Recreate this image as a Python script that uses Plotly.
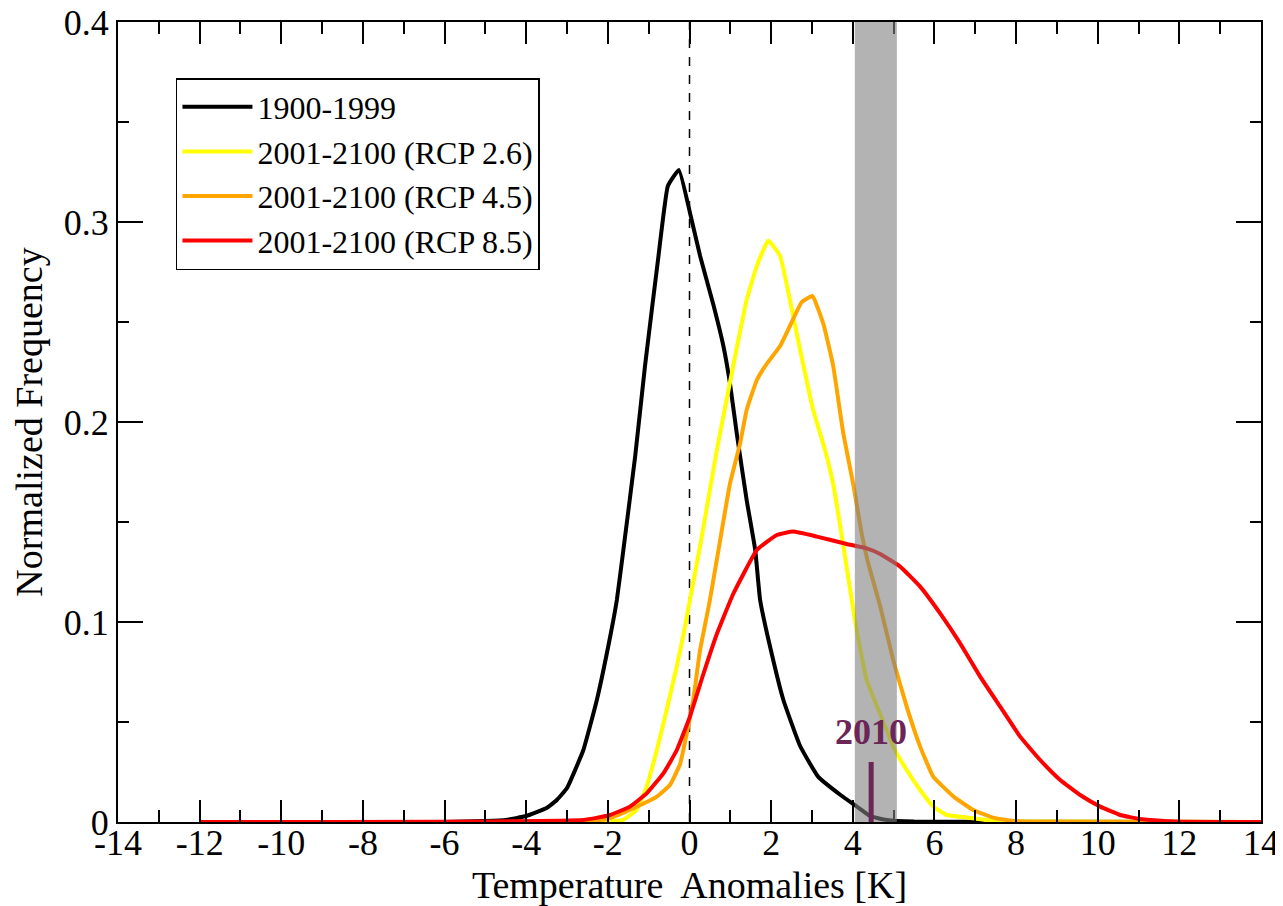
import plotly.graph_objects as go

# ---------------- data ----------------
x_1900 = [-12, -6, -5, -4.5, -4, -3.5, -3.25, -3, -2.6, -2.27, -1.95, -1.78, -1.62, -1.33, -1.09,
          -0.76, -0.53, -0.26, 0.03, 0.26, 0.58, 0.83, 0.99, 1.16, 1.40, 1.61, 1.73, 1.97, 2.30,
          2.71, 3.15, 3.7, 4.1, 4.42, 4.83, 5.5, 14]
y_1900 = [0, 0, 0.0005, 0.001, 0.003, 0.007, 0.011, 0.017, 0.036, 0.061, 0.092, 0.111, 0.136, 0.183,
          0.228, 0.283, 0.318, 0.326, 0.303, 0.283, 0.259, 0.238, 0.2195, 0.194, 0.161, 0.136, 0.111,
          0.088, 0.061, 0.038, 0.0227, 0.0135, 0.0077, 0.003, 0.001, 0.0002, 0]

x_rcp26 = [-12, -2.5, -2, -1.63, -1.3, -1.05, -0.8, -0.56, -0.31, -0.15, 0.01, 0.26, 0.67, 1.07,
           1.40, 1.65, 1.93, 2.22, 2.46, 2.71, 3.03, 3.32, 3.52, 3.77, 4.05, 4.34, 4.67, 4.99, 5.32,
           5.65, 5.97, 6.30, 6.79, 7.28, 7.8, 14]
y_rcp26 = [0, 0, 0.0003, 0.001, 0.006, 0.0177, 0.036, 0.056, 0.078, 0.0935, 0.111, 0.138, 0.186,
           0.228, 0.261, 0.278, 0.2907, 0.283, 0.261, 0.236, 0.206, 0.186, 0.169, 0.138, 0.101,
           0.071, 0.054, 0.0377, 0.026, 0.016, 0.0077, 0.0035, 0.0023, 0.001, 0.0002, 0]

x_rcp45 = [-12, -2.5, -1.95, -1.29, -0.8, -0.48, -0.23, -0.07, 0.09, 0.26, 0.50, 0.71, 0.99, 1.24,
           1.40, 1.65, 1.89, 2.22, 2.46, 2.75, 3.01, 3.28, 3.52, 3.77, 4.01, 4.22, 4.37, 4.67, 4.99,
           5.32, 5.65, 5.97, 6.47, 6.95, 7.44, 7.93, 8.5, 14]
y_rcp45 = [0, 0, 0.002, 0.0077, 0.0127, 0.0185, 0.029, 0.044, 0.061, 0.086, 0.111, 0.136, 0.169,
           0.1893, 0.206, 0.221, 0.229, 0.238, 0.248, 0.260, 0.263, 0.249, 0.228, 0.194, 0.169,
           0.144, 0.13, 0.108, 0.081, 0.0577, 0.0377, 0.0227, 0.0127, 0.006, 0.0022, 0.0005,
           0.0001, 0]

x_rcp85 = [-12, -2.6, -1.95, -1.46, -1.05, -0.64, -0.31, 0.01, 0.34, 0.67, 1.07, 1.65, 2.14, 2.54,
           3.12, 3.85, 4.34, 4.67, 5.16, 5.65, 6.14, 6.63, 7.12, 7.61, 8.10, 8.59, 9.08, 9.57,
           10.06, 10.55, 11.04, 11.9, 14]
y_rcp85 = [0, 0.001, 0.0035, 0.0077, 0.0143, 0.0243, 0.036, 0.0527, 0.074, 0.094, 0.114, 0.136,
           0.1435, 0.1452, 0.1427, 0.139, 0.1368, 0.134, 0.1277, 0.1177, 0.1043, 0.0893, 0.0727,
           0.0577, 0.0427, 0.031, 0.021, 0.0135, 0.0077, 0.0035, 0.0015, 0.0003, 0]

series_names = ["1900-1999", "2001-2100 (RCP 2.6)", "2001-2100 (RCP 4.5)", "2001-2100 (RCP 8.5)"]
series_colors = ["#000000", "#ffff00", "#ffa500", "#ff0000"]

x_tickvals = [-14, -12, -10, -8, -6, -4, -2, 0, 2, 4, 6, 8, 10, 12, 14]
x_ticktext = ["-14", "-12", "-10", "-8", "-6", "-4", "-2", "0", "2", "4", "6", "8", "10", "12", "14"]
y_tickvals = [0, 0.1, 0.2, 0.3, 0.4]
y_ticktext = ["0", "0.1", "0.2", "0.3", "0.4"]

band_range = [4.05, 5.08]      # grey shaded band
marker_x = 4.45                # "2010" marker
marker_height = 0.03
marker_label = "2010"

FONT = "Liberation Serif"

fig = go.Figure()
for xs, ys, name, col in zip([x_1900, x_rcp26, x_rcp45, x_rcp85],
                             [y_1900, y_rcp26, y_rcp45, y_rcp85],
                             series_names, series_colors):
    fig.add_trace(go.Scatter(x=xs, y=ys, mode="lines", name=name,
                             line=dict(color=col, width=4, shape="spline", smoothing=0.35)))

# dashed zero line
fig.add_shape(type="line", x0=0, x1=0, y0=0, y1=0.4, xref="x", yref="y",
              line=dict(color="black", width=1.5, dash="dash"), layer="below")
# grey band (drawn over the curves, semi-transparent)
fig.add_shape(type="rect", x0=band_range[0], x1=band_range[1], y0=0, y1=0.4, xref="x", yref="y",
              fillcolor="rgba(128,128,128,0.6)", line=dict(width=0), layer="above")
# 2010 marker
fig.add_shape(type="line", x0=marker_x, x1=marker_x, y0=0, y1=marker_height, xref="x", yref="y",
              line=dict(color="#6b2557", width=5), layer="above")
fig.add_annotation(x=marker_x, y=0.045, text="<b>%s</b>" % marker_label, showarrow=False,
                   font=dict(family=FONT, size=36, color="#6b2557"), xref="x", yref="y")

axis_common = dict(showline=True, linecolor="black", linewidth=2, mirror="allticks",
                   ticks="inside", tickcolor="black", tickwidth=2, showgrid=False, zeroline=False,
                   automargin=False, ticklabeloverflow="allow",
                   tickfont=dict(family=FONT, size=36, color="black"))

fig.update_xaxes(range=[-14, 14], tickvals=x_tickvals, ticktext=x_ticktext, ticklen=22,
                 ticklabelstandoff=-12,
                 minor=dict(dtick=1, tick0=0, ticklen=12, tickwidth=2, tickcolor="black",
                            ticks="inside", showgrid=False),
                 title=dict(text="Temperature\u00a0 Anomalies [K]",
                            font=dict(family=FONT, size=38, color="black"), standoff=9),
                 **axis_common)
fig.update_yaxes(range=[0, 0.4], tickvals=y_tickvals, ticktext=y_ticktext, ticklen=25,
                 minor=dict(dtick=0.05, tick0=0, ticklen=11, tickwidth=2, tickcolor="black",
                            ticks="inside", showgrid=False),
                 title=dict(text="Normalized Frequency",
                            font=dict(family=FONT, size=38, color="black")),
                 **axis_common)

# the page adds an 8 px body margin, so the figure starts at (8, 8) in the window
fig.update_layout(
    template="none",
    width=1275, height=898,
    margin=dict(l=110, r=22, t=14, b=84),
    paper_bgcolor="white", plot_bgcolor="white",
    showlegend=True,
    legend=dict(x=0.0507, y=0.93, xanchor="left", yanchor="top",
                bgcolor="white", bordercolor="black", borderwidth=1.5,
                font=dict(family=FONT, size=32, color="black"),
                itemwidth=70, tracegroupgap=0),
    font=dict(family=FONT, color="black"),
)

fig.write_html("out.html")
